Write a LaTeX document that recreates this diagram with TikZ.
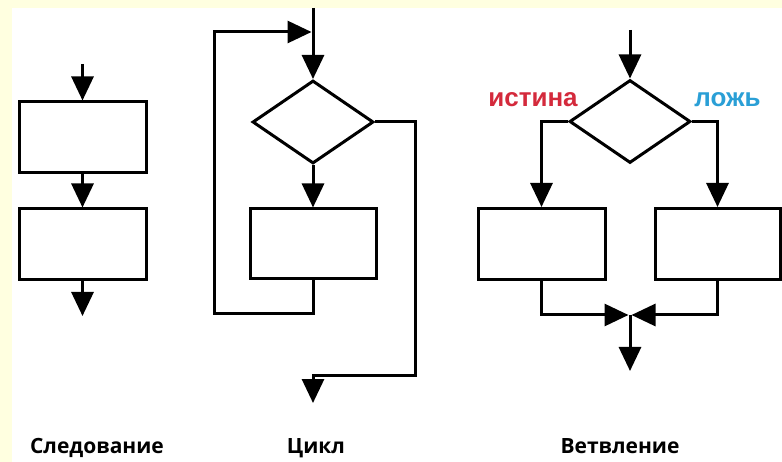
\documentclass[tikz,border=0pt]{standalone}
\usepackage{fontspec}
\setmainfont{Open Sans}
\newfontfamily\lblfont{Liberation Sans}
\usetikzlibrary{arrows.meta,shapes.geometric,calc}
\definecolor{bgyellow}{HTML}{FFFFE0}
\definecolor{truered}{HTML}{D42A3C}
\definecolor{falseblue}{HTML}{2A9FD6}
\begin{document}
\begin{tikzpicture}[x=1pt,y=-1pt,
  line width=3pt,
  block/.style={draw,rectangle,inner sep=0pt,minimum width=127pt,minimum height=71pt},
  cond/.style={draw,diamond,inner sep=0pt,minimum width=121pt,minimum height=83pt},
  arr/.style={-{Triangle[length=24pt,width=22pt]}},
  caption/.style={font=\bfseries\fontsize{21}{24}\selectfont,anchor=base},
  branchlbl/.style={font=\lblfont\bfseries\fontsize{26}{28}\selectfont,anchor=base}
]
% background
\fill[bgyellow] (0,0) rectangle (782,462);
\fill[white] (12,8) rectangle (782,462);
\useasboundingbox (0,0) rectangle (782,462);

% ---------- Sequence ----------
\node[block] (s1) at (82.5,137.5) {};
\node[block] (s2) at (82.5,244.5) {};
\coordinate (sTop) at (82.5,64);
\coordinate (sBot) at (82.5,316);
\draw[arr] (sTop) -- (s1.north);
\draw[arr] (s1.south) -- (s2.north);
\draw[arr] (s2.south) -- (sBot);
\node[caption] (capS) at (97,453) {Следование};

% ---------- Loop ----------
\node[cond] (d1) at (313,122) {};
\node[block,minimum width=126pt,minimum height=70pt] (l1) at (313,244) {};
\coordinate (lTop) at (313,8);
\coordinate (lJoin) at (311.5,32);
\coordinate (lBack) at (313,314);
\coordinate (lOut) at (313,375);
\coordinate (lEnd) at (313,403);
\draw[arr] (lTop) -- (d1.north);
\draw[arr] (d1.south) -- (l1.north);
\draw[arr] (l1.south) -- (lBack) -- (214,314) -- (214,32) -- (lJoin);
\draw[arr] (d1.east) -- (415,122) -- (415,375) -- (lOut) -- (lEnd);
\node[caption] (capL) at (316,453) {Цикл};

% ---------- Branch ----------
\node[cond] (d2) at (630,121.5) {};
\node[block] (b1) at (541.5,244) {};
\node[block,minimum width=125pt] (b2) at (717.5,244) {};
\coordinate (bTop) at (630,30);
\coordinate (bJoinL) at (628.5,315);
\coordinate (bJoinR) at (631.5,315);
\coordinate (bJoin) at (630,315);
\coordinate (bEnd) at (630,371);
\draw[arr] (bTop) -- (d2.north);
\draw[arr] (d2.west) -| (b1.north);
\draw[arr] (d2.east) -| (b2.north);
\draw[arr] (b1.south) |- (bJoinL);
\draw[arr] (b2.south) |- (bJoinR);
\draw[arr] (bJoin) -- (bEnd);
\node[branchlbl,text=truered] (tLbl) at (533,107) {истина};
\node[branchlbl,text=falseblue] (fLbl) at (727.5,107) {ложь};
\node[caption] (capB) at (620,453) {Ветвление};
\end{tikzpicture}
\end{document}
